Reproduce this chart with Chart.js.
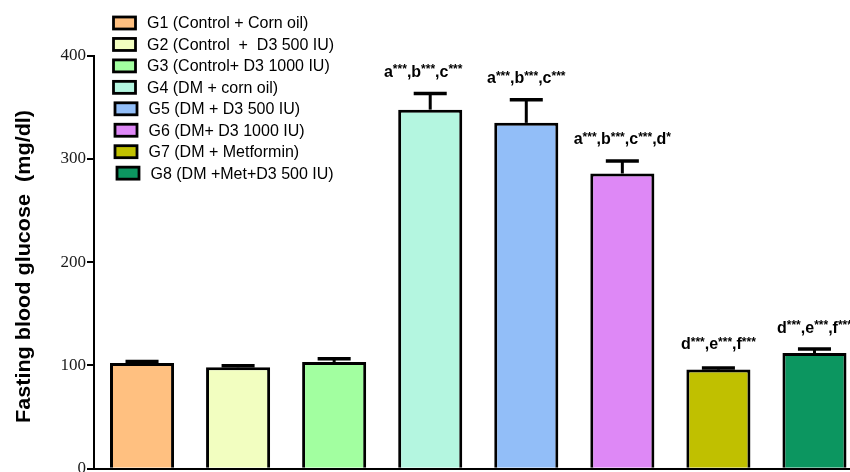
<!DOCTYPE html>
<html><head><meta charset="utf-8">
<script src="https://cdn.jsdelivr.net/npm/chart.js@4.4.1/dist/chart.umd.min.js"></script>
<style>
html,body{margin:0;padding:0;overflow:hidden;background:#fff;width:850px;height:472px}
#wrap{position:absolute;left:0;top:0;width:880px;height:480px}
canvas{display:block}
</style></head>
<body><div id="wrap"><canvas id="c" width="880" height="480"></canvas></div>
<script>
// ---- data ----
const groups = ['G1','G2','G3','G4','G5','G6','G7','G8'];
const legendLabels = [
  'G1 (Control + Corn oil)',
  'G2 (Control  +  D3 500 IU)',
  'G3 (Control+ D3 1000 IU)',
  'G4 (DM + corn oil)',
  'G5 (DM + D3 500 IU)',
  'G6 (DM+ D3 1000 IU)',
  'G7 (DM + Metformin)',
  'G8 (DM +Met+D3 500 IU)'
];
const meanGlucose = [102.4, 98.3, 103.4, 347.6, 334.8, 285.8, 96.0, 112.0];
const semGlucose  = [1.5, 1.5, 3.0, 15.7, 22.4, 12.1, 1.6, 3.9];
const sigLabels = ['', '', '', 'a***,b***,c***', 'a***,b***,c***', 'a***,b***,c***,d*', 'd***,e***,f***', 'd***,e***,f***'];
const yTicks = [0, 100, 200, 300, 400];
const yTitle = 'Fasting blood glucose  (mg/dl)';

// ---- style ----
const barColors = ['#FFC080','#F2FEC0','#A2FFA0','#B4F6E0','#92BEF8','#DE88F6','#C0C000','#0C9660'];
const legendDx = [0,0,0,0,1.5,1.5,1.5,3.5];
const sigDx = [0,0,0,-7,0,0,0,0];
const sigDy = [0,0,0,0,0,0,-2,0];

const errPlugin = {
  id: 'errbars',
  afterDatasetsDraw(chart) {
    const ctx = chart.ctx, meta = chart.getDatasetMeta(0), ys = chart.scales.y;
    ctx.save();
    ctx.strokeStyle = '#000';
    ctx.lineCap = 'butt';
    meta.data.forEach((bar, i) => {
      const top = ys.getPixelForValue(meanGlucose[i]);
      const cap = ys.getPixelForValue(meanGlucose[i] + semGlucose[i]);
      const half = bar.width / 4 + 0.5;
      ctx.lineWidth = 3;
      ctx.beginPath(); ctx.moveTo(bar.x, top); ctx.lineTo(bar.x, cap); ctx.stroke();
      ctx.lineWidth = 3.5;
      ctx.beginPath(); ctx.moveTo(bar.x - half, cap); ctx.lineTo(bar.x + half, cap); ctx.stroke();
      const s = sigLabels[i];
      if (s) {
        const big = 'bold 16px "Liberation Sans", Arial, sans-serif';
        const small = 'bold 12px "Liberation Sans", Arial, sans-serif';
        let w = 0;
        for (const ch of s) { ctx.font = ch === '*' ? small : big; w += ctx.measureText(ch).width; }
        let x = bar.x - w / 2 + sigDx[i];
        const base = cap - 16.5 + sigDy[i];
        ctx.fillStyle = '#000';
        ctx.textBaseline = 'alphabetic';
        ctx.textAlign = 'left';
        for (const ch of s) {
          if (ch === '*') { ctx.font = small; ctx.fillText(ch, x, base - 3.5); }
          else { ctx.font = big; ctx.fillText(ch, x, base); }
          x += ctx.measureText(ch).width;
        }
      }
    });
    ctx.restore();
  },
  afterDraw(chart) {
    const ctx = chart.ctx;
    ctx.save();
    ctx.font = '16px "Liberation Sans", Arial, sans-serif';
    ctx.textBaseline = 'middle';
    ctx.textAlign = 'left';
    legendLabels.forEach((lab, i) => {
      const cy = 23 + i * 21.45;
      const bx = 113.5 + legendDx[i];
      ctx.fillStyle = barColors[i];
      ctx.fillRect(bx, cy - 6, 22, 12);
      ctx.strokeStyle = '#000';
      ctx.lineWidth = 2.8;
      ctx.strokeRect(bx, cy - 6, 22, 12);
      ctx.fillStyle = '#000';
      ctx.fillText(lab, 147 + legendDx[i], cy + 1);
    });
    // y-axis title
    ctx.translate(24.5, 266.5);
    ctx.rotate(-Math.PI / 2);
    ctx.font = 'bold 20px "Liberation Sans", Arial, sans-serif';
    const tw = ctx.measureText(yTitle).width;
    ctx.scale(313 / tw, 1);
    ctx.textAlign = 'center';
    ctx.textBaseline = 'middle';
    ctx.fillText(yTitle, 0, 0);
    ctx.restore();
  }
};

new Chart(document.getElementById('c'), {
  type: 'bar',
  data: {
    labels: groups,
    datasets: [{
      data: meanGlucose,
      backgroundColor: barColors,
      borderColor: '#000',
      borderWidth: 3,
      barPercentage: 0.667,
      categoryPercentage: 1.0
    }]
  },
  options: {
    responsive: false,
    animation: false,
    devicePixelRatio: 1,
    layout: { padding: { left: 0, top: 55.5, right: 17.5, bottom: 8.5 } },
    plugins: { legend: { display: false }, tooltip: { enabled: false } },
    scales: {
      x: {
        grid: { display: false },
        ticks: { display: false },
        border: { display: true, color: '#000', width: 2 },
        afterFit(axis) { axis.height = 0; }
      },
      y: {
        min: 0, max: 400,
        afterBuildTicks(axis) { axis.ticks = yTicks.map(v => ({ value: v })); },
        grid: { display: true, drawOnChartArea: false, drawTicks: true, tickLength: 7, color: '#000', lineWidth: 2 },
        border: { display: true, color: '#000', width: 2 },
        ticks: {
          padding: 1,
          color: '#1a1a1a',
          font: { family: '"Liberation Serif", "Times New Roman", serif', size: 17 }
        },
        title: { display: false },
        afterFit(axis) { axis.width = 94; }
      }
    }
  },
  plugins: [errPlugin]
});
</script>
</body></html>
